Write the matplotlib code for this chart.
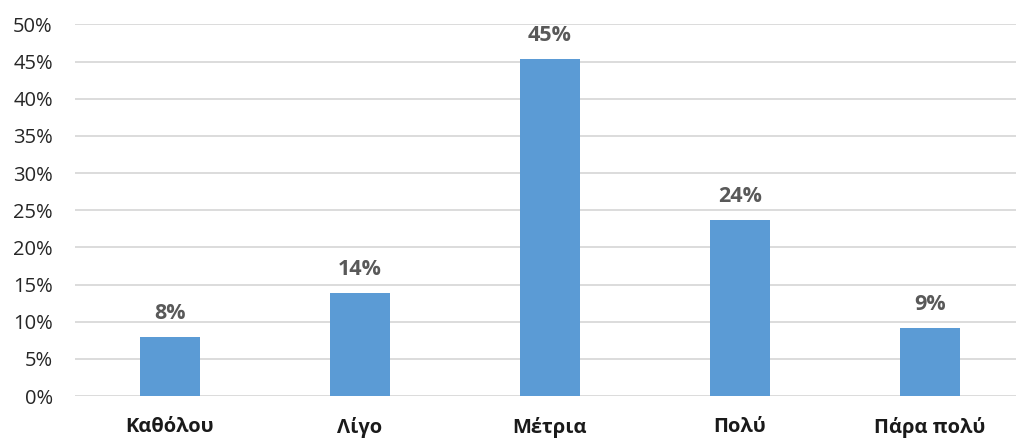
import matplotlib.pyplot as plt
from matplotlib.ticker import FuncFormatter

# Data
categories = ['Καθόλου', 'Λίγο', 'Μέτρια', 'Πολύ', 'Πάρα πολύ']
values = [7.9, 13.8, 45.4, 23.7, 9.2]
y_ticks = [0, 5, 10, 15, 20, 25, 30, 35, 40, 45, 50]

plt.rcParams['font.family'] = ['Open Sans', 'DejaVu Sans']

fig = plt.figure(figsize=(10.16, 4.4), dpi=100)
# plot area runs a little past the right edge, as in the reference
ax = fig.add_axes([75 / 1016, (440 - 396) / 440, 950 / 1016, (396 - 24.5) / 440])

x = range(len(categories))
bars = ax.bar(x, values, width=0.316, color='#5b9bd5', zorder=3)

for b, v in zip(bars, values):
    ax.annotate(f'{round(v)}%', (b.get_x() + b.get_width() / 2, v),
                xytext=(0, 13), textcoords='offset points',
                ha='center', va='baseline', fontsize=15.5, fontweight='bold',
                color='#595959')

ax.set_xlim(-0.5, len(categories) - 0.5)
ax.set_ylim(0, 50)
ax.set_yticks(y_ticks)
ax.yaxis.set_major_formatter(FuncFormatter(lambda v, p: f'{v:.0f}%'))
ax.set_xticks(list(x))
ax.set_xticklabels(categories, fontsize=14.5, fontweight='bold', color='#1a1a1a')
ax.tick_params(axis='y', length=0, pad=16, labelsize=14.5, labelcolor='#262626')
ax.tick_params(axis='x', length=0, pad=15)

ax.grid(axis='y', color='#d9d9d9', linewidth=1.3, zorder=0)
for s in ax.spines.values():
    s.set_visible(False)

plt.savefig('out.png', dpi=100)
